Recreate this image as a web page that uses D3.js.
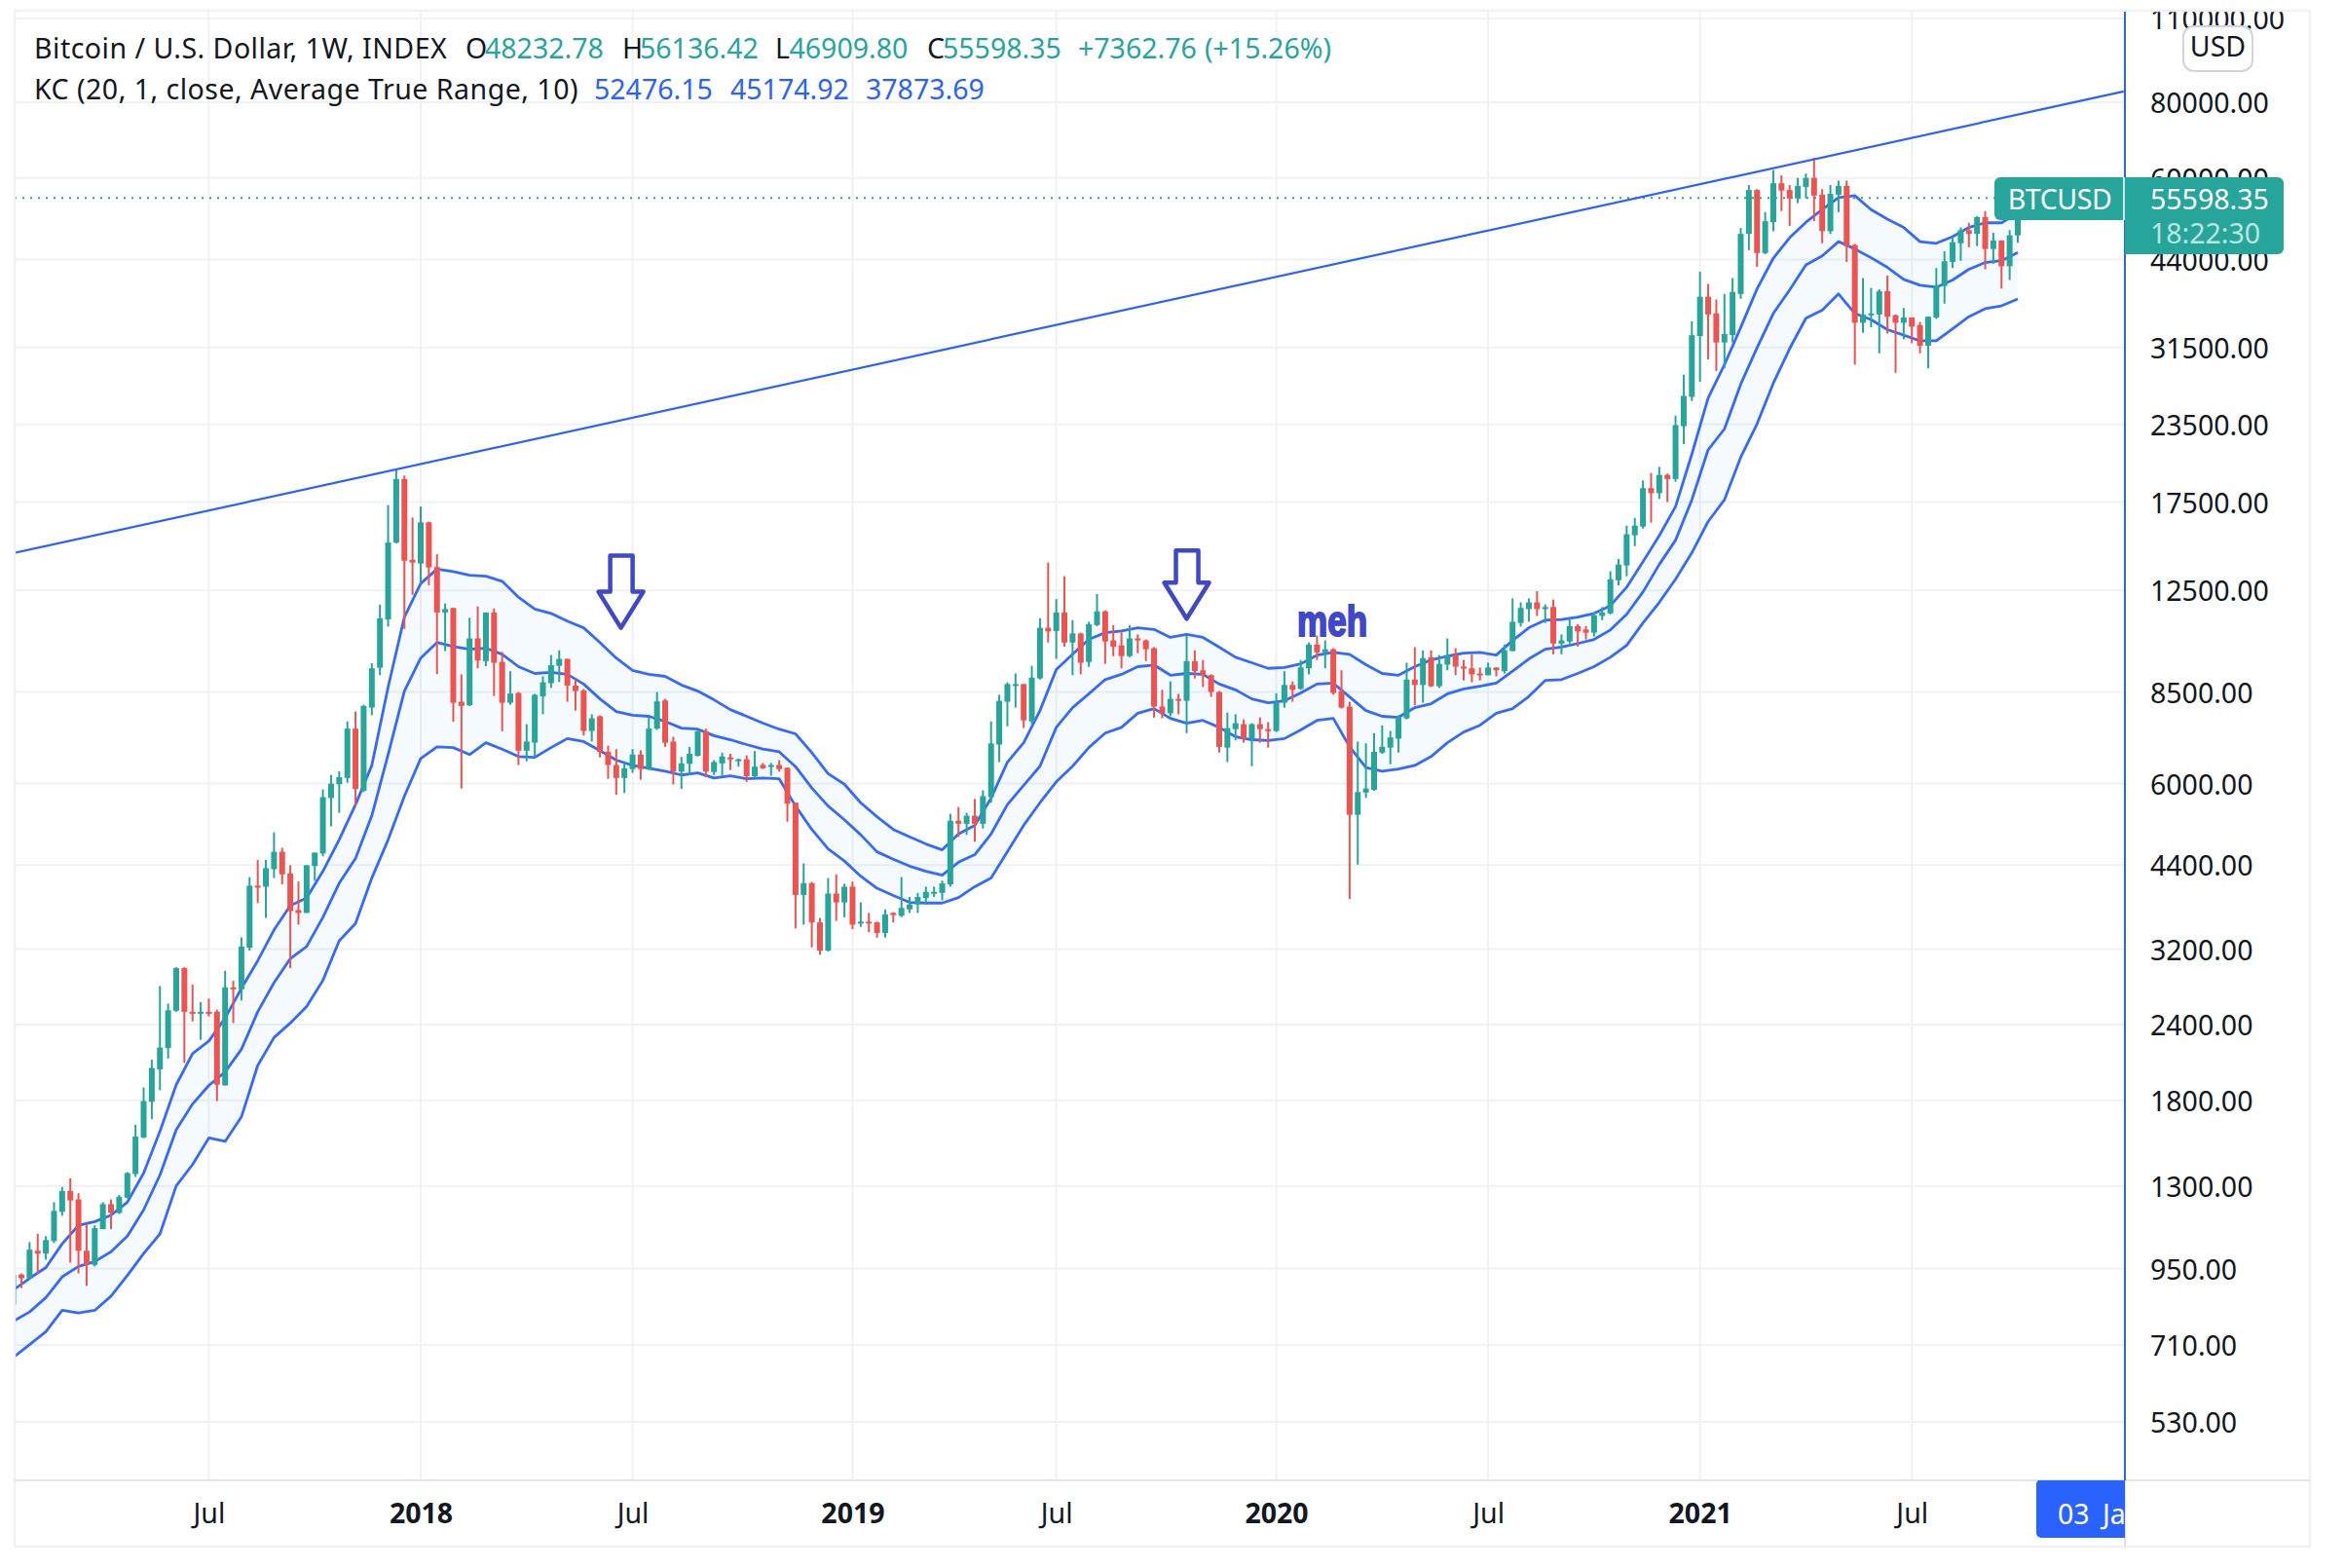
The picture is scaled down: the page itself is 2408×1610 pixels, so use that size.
<!DOCTYPE html>
<html>
<head>
<meta charset="utf-8">
<script src="https://cdn.jsdelivr.net/npm/d3@7"></script>
<style>
  html, body { margin: 0; background: #fff; }
  text { font-family: "Noto Sans", sans-serif; font-size: 28.5px; fill: #131722; }
</style>
</head>
<body>
<div id="chart"></div>
<script>
const w = 2408;
const h = 1610;
const green = "#26a69a";
const red = "#ef5350";
const blue = "#2962ff";
const paint = "#3f48cc";

// weekly candles, 16 Jan 2017 to 04 Oct 2021
const opens = [
  828,928,915,1016,1005,1054,1178,1275,1235,1016,
  963,1103,1213,1173,1243,1360,1563,1790,2025,2195,
  2530,2975,2520,2510,2520,2520,1905,2765,2745,3215,
  4070,4055,4335,4630,4265,3710,3670,4385,4600,5680,
  5985,6130,7395,5840,8010,9320,11200,15000,19100,14050,
  13850,16200,13670,11500,11700,8190,8080,10420,9560,11500,
  9530,8160,8470,6800,7010,8360,8790,9390,9640,8710,
  8550,7330,7750,6770,6440,6130,6340,6700,6340,7395,
  8230,7040,6280,6470,6670,7320,6270,6480,6630,6560,
  6580,6170,6440,6410,6440,6370,5580,3930,4110,3540,
  3180,3950,3820,4055,3525,3550,3540,3400,3670,3630,
  3720,3790,3885,3960,3960,4090,5210,5150,5310,5150,
  5700,6960,8190,8730,8760,7600,8950,10850,10720,11500,
  10260,10620,9530,10960,11550,10340,10150,9740,10420,10340,
  10040,8040,7840,8280,8220,9560,9230,9060,8500,6880,
  7380,7520,7120,7520,7380,7330,8160,8730,8600,9300,
  10180,9880,10000,8530,8040,5330,5800,5860,6750,6880,
  7120,7690,8910,8730,9700,8690,9430,9780,9360,9300,
  9120,9060,9330,9200,9930,11050,11650,11950,11650,11740,
  10220,10300,10920,10780,10650,11350,11460,13000,13750,15420,
  15940,18450,18100,19400,19100,23350,26100,32900,38200,35850,
  32100,33000,38600,48500,57300,45100,50700,58800,57300,55500,
  58000,60000,56300,49000,56300,58200,46500,34600,35600,35700,
  39000,35600,34600,35300,34300,31700,35300,39800,43600,46800,
  49200,48500,51700,45800,47300,42900,48232.78
];
const highs = [
  928,932,1050,1083,1074,1222,1295,1338,1265,1123,
  1119,1222,1235,1256,1370,1640,1890,2100,2780,2600,
  2985,2985,2795,2615,2650,2540,2945,2835,3345,4205,
  4490,4490,4985,4700,4400,4135,4400,4615,5870,6200,
  6285,7600,7890,8100,9480,11850,17300,19800,19350,16500,
  17200,16250,14350,11900,11720,9090,11270,11770,11500,11680,
  9900,9200,8500,7520,8440,9020,9780,9960,9640,8910,
  8600,7810,7780,6930,6840,6510,6840,6810,7720,8500,
  8280,7170,6640,6900,7360,7395,6560,6750,6720,6600,
  6680,6790,6490,6490,6560,6380,5580,4430,4130,3600,
  4190,4250,4100,4135,3820,3670,3550,3720,3680,4205,
  3900,3960,4055,4055,4150,5350,5490,5370,5660,5850,
  7600,8410,8820,9120,8760,9390,11250,13900,12100,13200,
  11170,10650,11100,12340,11600,10960,10700,10960,10580,10380,
  10080,8570,8850,8440,10540,9960,9600,9090,8530,7860,
  7810,7660,7550,7720,7580,8460,9200,8850,9600,10260,
  10540,10340,10040,9230,8190,7040,6990,7270,7490,7330,
  7780,9500,10080,9960,9960,9780,10420,10040,9600,9810,
  9330,9500,9330,10180,12130,11950,12130,12470,11860,12080,
  10580,11250,11000,10920,11500,11740,13450,14100,16000,16480,
  19000,19550,20000,19500,24300,28400,34800,42000,40100,37800,
  38600,41000,49600,58400,57500,52700,61800,60600,58400,60000,
  61000,64800,57500,58400,59400,59400,46700,41000,39500,39300,
  41400,35700,36600,35300,34700,35400,42600,45400,48000,49700,
  50600,51900,52900,48700,47300,49200,56136.42
];
const lows = [
  828,882,915,932,982,1046,1160,971,932,889,
  957,1103,1103,1169,1239,1345,1558,1675,1870,2110,
  2520,2075,2430,2265,2475,1795,1905,2415,2630,3180,
  3810,3600,4190,4090,2975,3510,3670,4145,4550,5100,
  5370,6020,5510,5810,7780,9060,10900,14950,10800,12300,
  12870,12750,9100,9930,7590,5890,8060,9300,9380,8370,
  7320,8100,6440,6530,6640,7810,8630,8830,8190,7920,
  7200,7040,6630,6110,5750,5790,6250,6090,6320,7360,
  6900,5980,5880,6200,6650,6150,6200,6170,6320,6400,
  6040,6130,6340,6180,6280,5190,3460,3510,3220,3130,
  3170,3560,3610,3450,3480,3410,3340,3340,3540,3610,
  3670,3670,3790,3900,3850,4055,4900,4940,4810,5060,
  5580,6510,7460,8010,7410,7520,8910,10260,9640,10100,
  9060,9090,9350,10920,9460,9740,9300,9700,9850,9560,
  7710,7690,7750,7810,7270,8950,8660,8340,6750,6510,
  7070,7010,6410,7010,6880,7300,8010,8190,8570,9090,
  9600,9300,8410,7980,3870,4410,5680,5840,6720,6460,
  6750,7660,8080,8160,8660,8630,9230,9060,8880,8820,
  8880,9060,9020,9120,9930,10900,11100,11350,11050,9810,
  9810,10220,10100,10380,10500,11170,11420,12750,13200,14800,
  15820,16180,17700,17500,18900,21800,25700,27650,30100,28800,
  29100,32100,37900,45600,42800,44900,49000,52900,50000,54500,
  55500,50900,46800,48500,52700,43600,29500,33300,34000,30800,
  33200,28600,32500,32000,30800,29100,35100,37200,42600,43800,
  46100,46300,42400,43300,39400,40700,46909.8
];
const closes = [
  928,915,1020,1005,1058,1182,1275,1230,1016,963,
  1107,1213,1173,1247,1365,1568,1795,2035,2200,2535,
  2975,2520,2510,2520,2500,1910,2765,2745,3230,4070,
  4055,4350,4630,4250,3695,3670,4400,4615,5700,6000,
  6150,7395,5880,8060,9300,11250,15000,19100,14000,13900,
  16200,13650,11500,11650,8160,8060,10420,9580,11500,9500,
  8160,8450,6800,7040,8410,8820,9410,9640,8710,8530,
  7330,7690,6770,6440,6130,6360,6700,6340,7395,8200,
  7010,6280,6480,6720,7320,6280,6510,6650,6580,6580,
  6170,6400,6360,6440,6340,5560,3930,4110,3540,3180,
  3950,3820,4055,3510,3550,3540,3400,3650,3640,3740,
  3790,3900,3975,3975,4105,5210,5150,5310,5150,5720,
  6990,8220,8760,8760,7630,8980,10850,10700,11500,10260,
  10620,9500,11000,11550,10300,10100,9740,10420,10340,10000,
  8040,7840,8280,8220,9560,9200,9060,8500,6900,7410,
  7550,7120,7520,7380,7330,8160,8730,8570,9330,10180,
  9880,10000,8470,8010,5330,5810,5890,6770,6900,7150,
  7720,8910,8730,9670,8690,9460,9780,9360,9300,9090,
  9060,9330,9230,9960,11100,11700,11950,11650,11740,10220,
  10340,10920,10700,10650,11380,11500,13050,13800,15480,16000,
  18450,18100,19400,19100,23450,26200,33000,38200,35700,32100,
  33150,38900,48500,57300,45100,50900,58800,57200,55500,58200,
  60000,56100,49000,56500,58200,46300,34600,35700,35850,39000,
  35400,34600,35300,34100,31700,35400,39900,43700,47000,49200,
  48500,51700,45800,47300,42900,48232.78,55598.35
];

// Keltner channel, one reading every second week
const kcUpper = [
  875,915,953,1043,1119,1135,1163,1222,1365,1600,
  1910,2150,2255,2460,2755,3060,3440,3775,3885,4300,
  4850,5540,6430,8660,11300,12840,13560,13430,13250,13200,
  12950,12190,11650,11460,11130,10850,10260,9670,9230,9090,
  9020,8730,8530,8250,7950,7750,7550,7380,7250,6750,
  6230,5985,5580,5290,5040,4900,4770,4665,4955,5120,
  5680,6510,7010,7920,9260,9810,10380,10650,10720,10850,
  10780,10460,10580,10460,10080,9700,9500,9300,9330,9460,
  9780,9880,9810,9430,9120,9060,9360,9600,9740,9850,
  9880,9780,10340,10850,11170,11200,11300,11460,11800,12660,
  13950,15400,17200,21000,25990,29500,34000,39350,44240,47800,
  50700,53200,55700,56100,53200,51300,49700,47100,46800,48000,
  49700,50600,50600,52476.15
];
const kcMiddle = [
  777,805,850,920,957,975,1012,1074,1187,1355,
  1610,1775,1905,2005,2185,2520,2815,3085,3230,3610,
  4110,4515,5310,6700,8530,9670,10260,10100,10000,10040,
  9810,9360,9120,9160,9090,8760,8280,7890,7780,7750,
  7600,7410,7380,7200,7090,6960,6840,6770,6400,5900,
  5510,5230,4940,4630,4500,4385,4300,4235,4450,4580,
  4955,5540,5960,6410,7430,8010,8440,8910,9090,9360,
  9420,9060,9120,9090,8760,8570,8280,8160,8220,8470,
  8760,8790,8340,7920,7750,7720,8010,8130,8440,8600,
  8690,8790,9200,9640,10000,10080,10220,10380,10760,11420,
  12430,13800,15140,17650,21350,23100,27400,31450,35850,39200,
  43100,44600,47100,45800,44300,42700,40800,39900,39600,40700,
  42400,43500,43800,45174.92
];
const kcLower = [
  677,711,747,810,802,810,855,925,1005,1083,
  1300,1410,1560,1540,1690,2055,2285,2415,2570,2840,
  3300,3525,4190,4845,5720,6600,6900,6880,6700,7010,
  6840,6650,6630,6880,7120,7040,6800,6560,6430,6360,
  6290,6200,6250,6130,6180,6110,6130,6110,5510,5040,
  4680,4470,4220,4030,3920,3820,3810,3810,3890,4055,
  4190,4630,5120,5580,6040,6410,6880,7270,7430,7840,
  7980,7690,7550,7630,7430,7170,7090,7070,7120,7360,
  7630,7690,6900,6380,6290,6340,6430,6650,7010,7300,
  7490,7840,7980,8360,8880,8910,9120,9360,9700,10150,
  11050,11950,13050,14430,16250,17650,20750,23550,27500,31350,
  35200,36300,38600,35850,35000,33700,33000,32300,32300,33800,
  35400,36500,36900,37873.69
];

const priceTicks = [110000,80000,60000,44000,31500,23500,17500,12500,8500,6000,4400,3200,2400,1800,1300,950,710,530];
const yearTicks = ["2018-01-01","2019-01-07","2020-01-06","2021-01-04"];
const julyTicks = ["2017-07-03","2018-07-02","2019-07-01","2020-07-06","2021-07-05"];

const trendDates = ["2017-01-17","2022-01-03"];
const trendPrices = [14420,83350];
const arrowDates = ["2018-06-22","2019-10-21"];
const arrowPrices = [10850,11230];
const lastPrice = closes[closes.length - 1];

const legendTop = [
  ["Bitcoin / U.S. Dollar, 1W, INDEX", 35, "#131722"],
  ["O", 478, "#131722"], ["48232.78", 498, green],
  ["H", 639, "#131722"], ["56136.42", 657, green],
  ["L", 796, "#131722"], ["46909.80", 810.5, green],
  ["C", 952, "#131722"], ["55598.35", 968, green],
  ["+7362.76", 1107, green], ["(+15.26%)", 1237, green]
];
const legendKc = [
  ["KC (20, 1, close, Average True Range, 10)", 35, "#131722"],
  ["52476.15", 610, blue], ["45174.92", 750, blue], ["37873.69", 889, blue]
];

const paneLeft = 15, paneTop = 12, paneRight = 2182, paneBottom = 1520, frameRight = 2372, frameBottom = 1588;

const parse = d3.utcParse("%Y-%m-%d");
const weeks = d3.utcMonday.range(parse("2017-01-16"), parse("2021-10-05"));
const kcWeeks = weeks.filter((d, i) => i % 2 === 0);
const yearDates = yearTicks.map(parse);
const julyDates = julyTicks.map(parse);
const gridDates = julyDates.concat(yearDates);

const x = d3.scaleUtc().domain([parse("2018-01-01"), parse("2021-10-04")]).range([432, 2072]);
const y = d3.scaleLog().domain([530, 110000]).range([1460, 19]);

const svg = d3.select("#chart").append("svg").attr("width", w).attr("height", h).style("display", "block");

const defs = svg.append("defs");
defs.append("clipPath").attr("id", "pane").append("rect")
  .attr("x", paneLeft).attr("y", paneTop).attr("width", paneRight - paneLeft).attr("height", paneBottom - paneTop);
defs.append("clipPath").attr("id", "priceAxis").append("rect")
  .attr("x", paneRight).attr("y", paneTop).attr("width", frameRight - paneRight).attr("height", paneBottom - paneTop);
defs.append("clipPath").attr("id", "timeLabel").append("rect")
  .attr("x", paneLeft).attr("y", paneBottom).attr("width", paneRight - paneLeft).attr("height", frameBottom - paneBottom);

// grid
const grid = svg.append("g").attr("stroke", "#f0f1f4").attr("stroke-width", 2);
grid.selectAll(".hl").data(priceTicks).enter().append("line")
  .attr("x1", paneLeft).attr("x2", paneRight).attr("y1", (d) => y(d)).attr("y2", (d) => y(d));
grid.selectAll(".vl").data(gridDates).enter().append("line")
  .attr("x1", (d) => x(d)).attr("x2", (d) => x(d)).attr("y1", paneTop).attr("y2", paneBottom);

const pane = svg.append("g").attr("clip-path", "url(#pane)");

// channel
const band = d3.area().x((d, i) => x(d)).y0((d, i) => y(kcLower[i])).y1((d, i) => y(kcUpper[i]));
pane.append("path").attr("d", band(kcWeeks)).attr("fill", "rgba(33,150,243,0.05)");
[kcUpper, kcMiddle, kcLower].forEach((series) => {
  const line = d3.line().x((d, i) => x(d)).y((d, i) => y(series[i]));
  pane.append("path").attr("d", line(kcWeeks)).attr("fill", "none")
    .attr("stroke", blue).attr("stroke-width", 2.8).attr("stroke-linejoin", "round").attr("opacity", 0.95);
});

// last price line
pane.append("line").attr("x1", paneLeft).attr("x2", 2048).attr("y1", y(lastPrice)).attr("y2", y(lastPrice))
  .attr("stroke", green).attr("stroke-width", 2).attr("stroke-dasharray", "2 6");

// candles
const colorOf = (i) => (closes[i] >= opens[i] ? green : red);
const candles = pane.selectAll(".candle").data(weeks).enter().append("g").attr("class", "candle");
candles.append("rect")
  .attr("x", (d) => x(d) - 1).attr("width", 2)
  .attr("y", (d, i) => y(highs[i])).attr("height", (d, i) => y(lows[i]) - y(highs[i]))
  .attr("fill", (d, i) => colorOf(i));
candles.append("rect")
  .attr("x", (d) => x(d) - 3).attr("width", 6)
  .attr("y", (d, i) => y(Math.max(opens[i], closes[i])))
  .attr("height", (d, i) => Math.max(2, y(Math.min(opens[i], closes[i])) - y(Math.max(opens[i], closes[i]))))
  .attr("fill", (d, i) => colorOf(i));

// trend line
const trend = d3.line().x((d) => x(parse(d))).y((d, i) => y(trendPrices[i]));
pane.append("path").attr("d", trend(trendDates)).attr("fill", "none").attr("stroke", blue).attr("stroke-width", 2.2);

// hand drawn arrows and note
const arrowShape = (s) => [[-11,-s],[12,-s],[12,-37],[23,-37],[0,0],[-23,-37],[-11,-37]];
arrowDates.forEach((d, i) => {
  pane.append("polygon")
    .attr("points", arrowShape(i === 0 ? 74 : 70).map((p) => p.join(",")).join(" "))
    .attr("transform", `translate(${x(parse(d))},${y(arrowPrices[i])})`)
    .attr("fill", "none").attr("stroke", paint).attr("stroke-width", 4.5).attr("stroke-linejoin", "round");
});
pane.append("text").text("meh")
  .attr("x", x(parse("2020-01-24"))).attr("y", y(10530))
  .attr("textLength", 72).attr("lengthAdjust", "spacingAndGlyphs")
  .style("font-family", "'Liberation Sans', sans-serif").style("font-weight", "bold").style("font-size", "45px")
  .style("fill", paint).style("stroke", paint).style("stroke-width", 2);

// price axis
const yAxis = d3.axisRight(y).tickValues(priceTicks).tickFormat(d3.format(".2f")).tickSize(0).tickPadding(26);
svg.append("g").attr("clip-path", "url(#priceAxis)").append("g")
  .attr("transform", `translate(${paneRight},1.5)`).call(yAxis)
  .call((g) => g.select(".domain").remove());

// time axis
const xAxis = d3.axisBottom(x).tickValues(gridDates)
  .tickFormat((d) => (d.getUTCMonth() === 0 ? d.getUTCFullYear() : "Jul")).tickSize(0).tickPadding(24);
svg.append("g").attr("transform", `translate(0,${paneBottom})`).call(xAxis)
  .call((g) => g.select(".domain").remove())
  .call((g) => g.selectAll("text").style("font-weight", (d) => (d.getUTCMonth() === 0 ? "bold" : "normal")));

// frame
svg.append("rect").attr("x", paneLeft).attr("y", paneTop - 1).attr("width", frameRight - paneLeft).attr("height", frameBottom - paneTop + 1)
  .attr("fill", "none").attr("stroke", "#f0f1f6").attr("stroke-width", 2.5);
svg.append("line").attr("x1", paneLeft).attr("x2", frameRight).attr("y1", paneBottom).attr("y2", paneBottom)
  .attr("stroke", "#e0e3eb").attr("stroke-width", 2);
svg.append("line").attr("x1", paneRight).attr("x2", paneRight).attr("y1", paneBottom).attr("y2", frameBottom)
  .attr("stroke", "#e0e3eb").attr("stroke-width", 2);
svg.append("line").attr("x1", paneRight).attr("x2", paneRight).attr("y1", paneTop).attr("y2", paneBottom)
  .attr("stroke", blue).attr("stroke-width", 2);

// crosshair date label
const dateTag = svg.append("g").attr("clip-path", "url(#timeLabel)");
dateTag.append("rect").attr("x", 2091).attr("y", paneBottom - 1).attr("width", 120).attr("height", 60).attr("rx", 5).attr("fill", blue);
dateTag.append("text").text("03 Jan '22").attr("x", 2113).attr("y", 1565).style("fill", "#fff").style("word-spacing", "6px");

// USD button
svg.append("rect").attr("x", 2242).attr("y", 27).attr("width", 71).attr("height", 46).attr("rx", 11)
  .attr("fill", "#fff").attr("stroke", "#d1d4dc").attr("stroke-width", 2);
svg.append("text").text("USD").attr("x", 2277.5).attr("y", 58).attr("text-anchor", "middle");

// last price labels
svg.append("rect").attr("x", 2048).attr("y", 182).attr("width", 145).attr("height", 44).attr("rx", 6).attr("fill", green);
svg.append("rect").attr("x", paneRight).attr("y", 182).attr("width", 163).attr("height", 79).attr("rx", 6).attr("fill", green);
svg.append("rect").attr("x", paneRight).attr("y", 182).attr("width", 12).attr("height", 79).attr("fill", green);
svg.append("line").attr("x1", paneRight - 1).attr("x2", paneRight - 1).attr("y1", 182).attr("y2", 226).attr("stroke", "#fff").attr("stroke-width", 1.5);
svg.append("text").text("BTCUSD").attr("x", 2115).attr("y", 215).attr("text-anchor", "middle").style("fill", "#fff").style("letter-spacing", "-0.4px");
svg.append("text").text(d3.format(".2f")(lastPrice)).attr("x", 2208).attr("y", 215).style("fill", "#fff");
svg.append("text").text("18:22:30").attr("x", 2208).attr("y", 250).style("fill", "rgba(255,255,255,0.7)");

// legend
const legend = svg.append("g");
[[legendTop, 59.5], [legendKc, 101.5]].forEach(([row, rowY]) => {
  row.forEach(([label, lx, color], i) => {
    legend.append("text").text(label).attr("x", lx).attr("y", rowY).style("fill", color)
      .style("letter-spacing", i === 0 ? "0.5px" : null);
  });
});
</script>
</body>
</html>
